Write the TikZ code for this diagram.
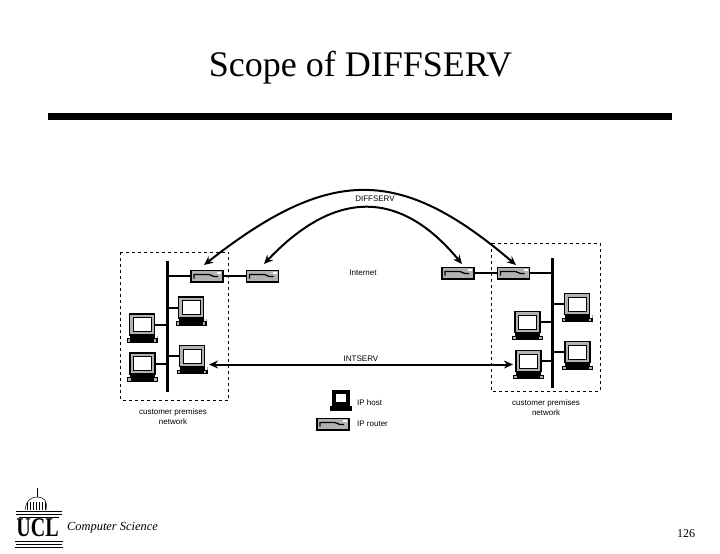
\documentclass[tikz,border=0pt]{standalone}
\usepackage{fontspec}
\setmainfont{Liberation Serif}
\setsansfont{Liberation Sans}
\usepackage{tikz}
\usetikzlibrary{positioning,arrows.meta}

\begin{document}
\begin{tikzpicture}[
    x=1pt, y=-1pt,
    monitor/.style={rectangle, draw=black, fill=gray!60, line width=1.5pt, inner sep=0pt,
        minimum width=25pt, minimum height=21pt,
        path picture={\draw[black, fill=white, line width=1pt]
            ([shift={(3.5pt,-3.5pt)}]path picture bounding box.north west) rectangle
            ([shift={(-3.5pt,3.5pt)}]path picture bounding box.south east);}},
    hostbase/.style={rectangle, fill=black, inner sep=0pt,
        minimum width=31pt, minimum height=7pt,
        path picture={
            \fill[white] (path picture bounding box.north west) rectangle ++(3pt,-2.5pt);
            \fill[white] (path picture bounding box.north east) rectangle ++(-3pt,-2.5pt);
            \fill[gray!60] ([shift={(1.2pt,1.2pt)}]path picture bounding box.south west) rectangle ++(2.5pt,2.3pt);
            \fill[gray!60] ([shift={(-1.2pt,1.2pt)}]path picture bounding box.south east) rectangle ++(-2.5pt,2.3pt);}},
    router/.style={rectangle, draw=black, fill=gray!60, line width=1.5pt, inner sep=0pt,
        minimum width=32pt, minimum height=11.5pt,
        path picture={
            \draw[black, line width=1.3pt] ([shift={(3pt,-2.5pt)}]path picture bounding box.west) -- ++(0,4pt) -- ++(15pt,0) -- ++(5pt,-2pt) -- ++(4pt,0);
            \fill[white] ([shift={(-6pt,-1.5pt)}]path picture bounding box.north east) rectangle ++(4pt,-2.5pt);}},
    bus/.style={rectangle, fill=black, inner sep=0pt, minimum width=3pt},
    premises/.style={draw=black, dashed, line width=0.8pt},
    link/.style={line width=2pt},
    arrow/.style={{Stealth[length=9pt,width=8pt]}-{Stealth[length=9pt,width=8pt]}, line width=2pt},
    label/.style={font=\sffamily\fontsize{8}{9.5}\selectfont, align=center, inner sep=0pt}
]
\useasboundingbox (0,0) rectangle (720,554);

% Heading
\node[font=\fontsize{36}{40}\selectfont, inner sep=0pt] (title) at (360.5,68) {Scope of DIFFSERV};
\node[rectangle, fill=black, inner sep=0pt, minimum width=624pt, minimum height=7pt] (rule) at (360,116.5) {};

% Customer premises boxes
\draw[premises] (120.5,252) rectangle (228.5,400);
\draw[premises] (491,243) rectangle (600,391);

% Routers
\node[router] (routerA) at (207,276) {};
\node[router, right=22pt of routerA] (routerB) {};
\node[router] (routerC) at (458,273) {};
\node[router, right=22pt of routerC] (routerD) {};

% Buses
\node[bus, minimum height=131pt] (busL) at (167,326.5) {};
\node[bus, minimum height=130pt] (busR) at (552.7,323) {};

% Left hosts
\node[monitor] (hostA) at (191,307.5) {};
\node[hostbase, below=0pt of hostA] (baseA) {};
\node[monitor] (hostB) at (142,324.5) {};
\node[hostbase, below=0pt of hostB] (baseB) {};
\node[monitor] (hostC) at (192,356) {};
\node[hostbase, below=0pt of hostC] (baseC) {};
\node[monitor] (hostD) at (142.5,363.5) {};
\node[hostbase, below=0pt of hostD] (baseD) {};

% Right hosts
\node[monitor] (hostE) at (577,304) {};
\node[hostbase, below=0pt of hostE] (baseE) {};
\node[monitor] (hostF) at (527.5,322) {};
\node[hostbase, below=0pt of hostF] (baseF) {};
\node[monitor] (hostG) at (528.5,361) {};
\node[hostbase, below=0pt of hostG] (baseG) {};
\node[monitor] (hostH) at (577.5,352) {};
\node[hostbase, below=0pt of hostH] (baseH) {};

% Links
\draw[link] (routerA.west) -- (routerA.west -| busL);
\draw[link] (routerA) -- (routerB);
\draw[link] (routerC) -- (routerD);
\draw[link] (routerD.east) -- (routerD.east -| busR);
\draw[link] (hostA.west) -- (hostA.west -| busL);
\draw[link] (hostB.east) -- (hostB.east -| busL);
\draw[link] (hostC.west) -- (hostC.west -| busL);
\draw[link] (hostD.east) -- (hostD.east -| busL);
\draw[link] (hostE.west) -- (hostE.west -| busR);
\draw[link] (hostF.east) -- (hostF.east -| busR);
\draw[link] (hostG.east) -- (hostG.east -| busR);
\draw[link] (hostH.west) -- (hostH.west -| busR);

% Service arcs
\coordinate (outerL) at (204,265);
\coordinate (outerR) at (516,265);
\coordinate (innerL) at (264,264);
\coordinate (innerR) at (462,264);
\coordinate (intL) at (209,364.5);
\coordinate (intR) at (513,364.5);
\draw[arrow] (outerL) .. controls (330,166) and (400,166) .. (outerR);
\draw[arrow] (innerL) .. controls (335,189) and (400,189) .. (innerR);
\draw[arrow] (intL) -- (intR);

% Labels
\node[label] (diffserv) at (375,199) {DIFFSERV};
\node[label] (internet) at (363,273) {Internet};
\node[label] (intserv) at (361,358.5) {INTSERV};
\node[label] (customerL) at (173,416.5) {customer premises\\network};
\node[label] (customerR) at (546,407.5) {customer premises\\network};

% Key
\node[monitor, fill=black, minimum width=16pt, minimum height=14pt,
    path picture={\fill[white] ([shift={(3pt,-3pt)}]path picture bounding box.north west) rectangle ([shift={(-3pt,3pt)}]path picture bounding box.south east);}] (keyhost) at (341,398) {};
\node[rectangle, fill=black, inner sep=0pt, minimum width=22pt, minimum height=5pt, below=0pt of keyhost] (keybase) {};
\node[router] (keyrouter) at (333,424) {};
\node[label, anchor=west] (iphost) at (357,403) {IP host};
\node[label, anchor=west] (iprouter) at (357,424) {IP router};

% Logo
\node[font=\bfseries\fontsize{20}{20}\selectfont, inner sep=0pt, yscale=1.35, transform shape] (ucl) at (37.5,528) {UCL};
\draw[line width=0.5pt] (16,511) -- (62,511) (16,514) -- (62,514) (19,517) -- (59,517);
\draw[line width=0.5pt] (25,510) .. controls (26,500) and (32,497) .. (37,497) .. controls (43,497) and (48,500) .. (46,510);
\foreach \hatch in {27,30,...,45} {\draw[line width=0.4pt] (\hatch,510) -- (\hatch,502);}
\draw[line width=0.8pt] (37,497) -- (37,488);
\draw[line width=0.5pt] (15,541) -- (63,541) (16,544) -- (62,544) (15,547) -- (63,547);
\node[font=\itshape\fontsize{12.4}{15}\selectfont, inner sep=0pt, anchor=west] (dept) at (67,528) {Computer Science};
\node[font=\fontsize{12}{14}\selectfont, inner sep=0pt] (pagenum) at (686,534) {126};

\end{tikzpicture}
\end{document}
